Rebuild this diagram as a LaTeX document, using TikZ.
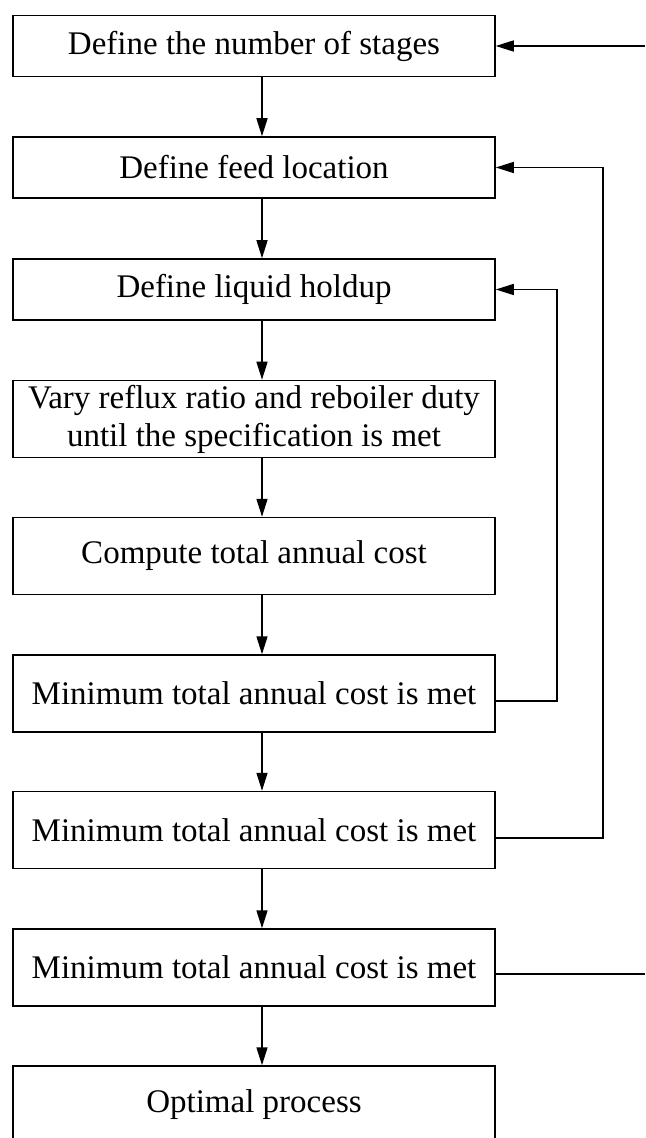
\documentclass[tikz,border=0pt]{standalone}
\usepackage{fontspec}
\setmainfont{Liberation Serif}
\usetikzlibrary{arrows.meta}

\begin{document}
\begin{tikzpicture}[x=0.5pt, y=-0.5pt,
    stepbox/.style={draw, line width=0.75pt, minimum width=241pt, inner sep=0pt,
      align=center, font=\fontsize{16.5}{19}\selectfont},
    small/.style={stepbox, minimum height=30.5pt},
    tall/.style={stepbox, minimum height=38.5pt},
    flow/.style={line width=0.75pt, -{Triangle[length=9pt,width=5.5pt]}},
    wire/.style={line width=0.75pt}]
  \useasboundingbox (0,0) rectangle (645,1138);

  % Steps of the design procedure
  \node[small] (stages)  at (254,46)     {Define the number of stages};
  \node[small] (feed)    at (254,167.5)  {Define feed location};
  \node[small] (holdup)  at (254,289.5)  {Define liquid holdup};
  \node[tall]  (vary)    at (254,419)    {Vary reflux ratio and reboiler duty\\until the specification is met};
  \node[tall]  (cost)    at (254,556)    {Compute total annual cost};
  \node[tall]  (minA)    at (254,693.5)  {Minimum total annual cost is met};
  \node[tall]  (minB)    at (254,830)    {Minimum total annual cost is met};
  \node[tall]  (minC)    at (254,967.5)  {Minimum total annual cost is met};
  \node[tall]  (optimal) at (254,1104.5) {Optimal process};

  % Main flow down the column
  \coordinate (axis) at (262,0);
  \foreach \a/\b in {stages/feed, feed/holdup, holdup/vary, vary/cost,
                     cost/minA, minA/minB, minB/minC, minC/optimal}{
    \draw[flow] (\a.south -| axis) -- (\b.north -| axis);
  }

  % Return loops
  \coordinate (loopA) at (557,701);
  \coordinate (loopB) at (603,838);
  \coordinate (outC) at (645,974);
  \coordinate (inC) at (645,46);
  \draw[flow] (minA.east |- loopA) -- (loopA) |- (holdup.east);
  \draw[flow] (minB.east |- loopB) -- (loopB) |- (feed.east);
  \draw[wire] (minC.east |- outC) -- (outC);
  \draw[flow] (inC) -- (stages.east);
\end{tikzpicture}
\end{document}
